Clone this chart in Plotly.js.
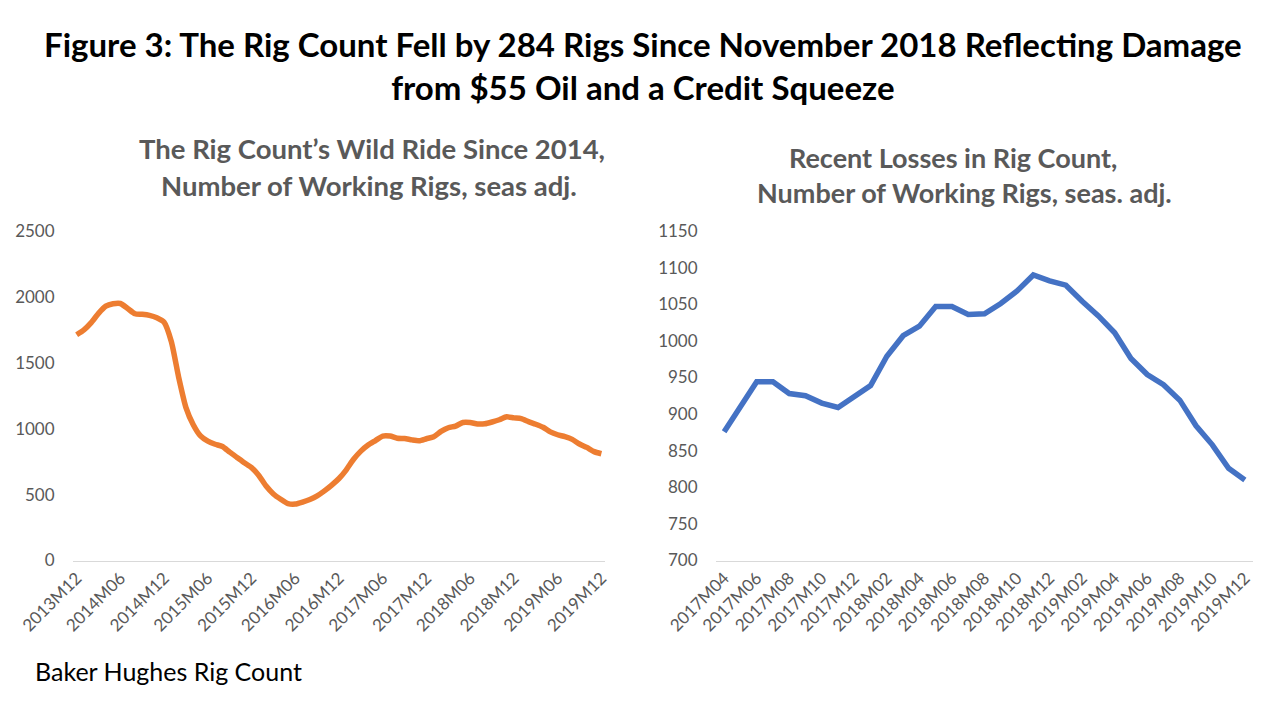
<!DOCTYPE html>
<html>
<head>
<meta charset="utf-8">
<script src="https://cdn.plot.ly/plotly-3.0.1.min.js"></script>
<style>html,body{margin:0;padding:0;background:#fff;}#chart{width:1280px;height:719px;}</style>
</head>
<body>
<div id="chart"></div>
<script>
// Left chart: monthly, 2013M12 .. 2019M12
const leftMonths = (function(){const a=[];let y=2013,m=12;while(!(y===2020&&m===1)){a.push(y+'M'+String(m).padStart(2,'0'));m++;if(m>12){m=1;y++;}}return a;})();
const leftValues = [
  1713,1750,1805,1875,1930,1948,1950,1912,1872,1868,1860,1842,
  1808,1660,1390,1160,1030,945,905,882,865,822,782,742,
  705,645,565,505,465,432,428,443,463,490,528,572,
  622,688,768,830,
  876,910,944,944,928,925,915,909,924,939,979,1007,
  1020,1047,1047,1036,1037,1051,1068,1090,1082,1076,1054,1034,
  1011,976,954,940,919,884,858,826,810
];
const leftTickLabels = ['2013M12','2014M06','2014M12','2015M06','2015M12','2016M06','2016M12','2017M06','2017M12','2018M06','2018M12','2019M06','2019M12'];

// Right chart: monthly, 2017M04 .. 2019M12
const rightMonths = (function(){const a=[];let y=2017,m=4;while(!(y===2020&&m===1)){a.push(y+'M'+String(m).padStart(2,'0'));m++;if(m>12){m=1;y++;}}return a;})();
const rightValues = [
  876,910,944,944,928,925,915,909,924,939,979,1007,
  1020,1047,1047,1036,1037,1051,1068,1090,1082,1076,1054,1034,
  1011,976,954,940,919,884,858,826,810
];
const rightTickLabels = ['2017M04','2017M06','2017M08','2017M10','2017M12','2018M02','2018M04','2018M06','2018M08','2018M10','2018M12','2019M02','2019M04','2019M06','2019M08','2019M10','2019M12'];

const FONT = 'Lato, "Open Sans", sans-serif';
const GRAY = '#595959';
const W = 1280, H = 719;
const px = v => v / W;
const py = v => 1 - v / H;

const traces = [
  {x: leftMonths, y: leftValues, type: 'scatter', mode: 'lines', xaxis: 'x', yaxis: 'y',
   line: {color: '#ED7D31', width: 5.5, shape: 'spline', smoothing: 0.6}, hoverinfo: 'skip'},
  {x: rightMonths, y: rightValues, type: 'scatter', mode: 'lines', xaxis: 'x2', yaxis: 'y2',
   line: {color: '#4472C4', width: 5.5}, hoverinfo: 'skip'}
];

const xCommon = {type: 'category', showgrid: false, zeroline: false, showline: true, linecolor: '#d9d9d9', linewidth: 1,
  ticks: '', tickangle: -45, tickfont: {family: FONT, size: 17, color: GRAY}, fixedrange: true};
const yCommon = {showgrid: false, zeroline: false, showline: false, ticks: 'outside', ticklen: 14, tickcolor: 'rgba(0,0,0,0)',
  tickfont: {family: FONT, size: 17, color: GRAY}, fixedrange: true};

const layout = {
  width: W, height: H, margin: {l: 0, r: 0, t: 0, b: 0},
  paper_bgcolor: '#fff', plot_bgcolor: '#fff', showlegend: false,
  xaxis: Object.assign({}, xCommon, {domain: [px(73), px(605)], anchor: 'y', categoryarray: leftMonths, categoryorder: 'array',
    range: [-0.5, leftMonths.length - 0.5], tickvals: leftTickLabels, ticktext: leftTickLabels}),
  yaxis: Object.assign({}, yCommon, {domain: [py(560.5), py(231)], anchor: 'x', range: [0, 2500], tickvals: [0,500,1000,1500,2000,2500]}),
  xaxis2: Object.assign({}, xCommon, {domain: [px(716), px(1253)], anchor: 'y2', categoryarray: rightMonths, categoryorder: 'array',
    range: [-0.5, rightMonths.length - 0.5], tickvals: rightTickLabels, ticktext: rightTickLabels}),
  yaxis2: Object.assign({}, yCommon, {domain: [py(560.5), py(231)], anchor: 'x2', range: [700, 1150], tickvals: [700,750,800,850,900,950,1000,1050,1100,1150]}),
  annotations: [
    {text: '<b>Figure 3: The Rig Count Fell by 284 Rigs Since November 2018 Reflecting Damage</b><br><b>from $55 Oil and a Credit Squeeze</b>', x: px(643), y: py(66), xref: 'paper', yref: 'paper', showarrow: false, xanchor: 'center', yanchor: 'middle', align: 'center', font: {family: FONT, size: 33, color: '#000'}},
    {text: '<b>The Rig Count’s Wild Ride Since 2014,</b>', x: px(372), y: py(148), xref: 'paper', yref: 'paper', showarrow: false, xanchor: 'center', yanchor: 'middle', font: {family: FONT, size: 27.5, color: GRAY}},
    {text: '<b>Number of Working Rigs, seas adj.</b>', x: px(369), y: py(185), xref: 'paper', yref: 'paper', showarrow: false, xanchor: 'center', yanchor: 'middle', font: {family: FONT, size: 27.5, color: GRAY}},
    {text: '<b>Recent Losses in Rig Count,</b>', x: px(953), y: py(157), xref: 'paper', yref: 'paper', showarrow: false, xanchor: 'center', yanchor: 'middle', font: {family: FONT, size: 27, color: GRAY}},
    {text: '<b>Number of Working Rigs, seas. adj.</b>', x: px(964), y: py(192), xref: 'paper', yref: 'paper', showarrow: false, xanchor: 'center', yanchor: 'middle', font: {family: FONT, size: 27, color: GRAY}},
    {text: 'Baker Hughes Rig Count', x: px(33), y: py(671), xref: 'paper', yref: 'paper', showarrow: false, xanchor: 'left', yanchor: 'middle', font: {family: FONT, size: 25, color: '#000'}}
  ]
};

Plotly.newPlot('chart', traces, layout, {staticPlot: true, displayModeBar: false});
</script>
</body>
</html>
